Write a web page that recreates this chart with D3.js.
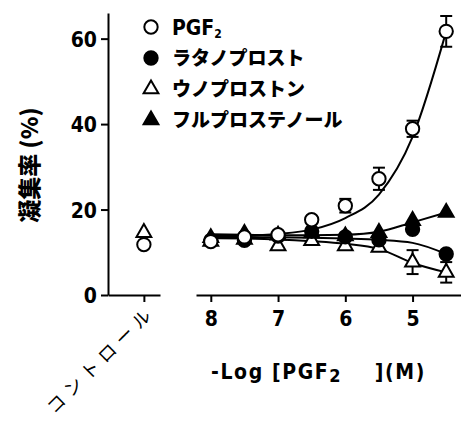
<!DOCTYPE html>
<html>
<head>
<meta charset="utf-8">
<script src="https://cdn.jsdelivr.net/npm/d3@7"></script>
<style>
  body { margin: 0; background: #fff; }
  svg { display: block; }
  .num { font-family: "DejaVu Sans Condensed", "Liberation Sans", sans-serif; font-weight: bold; font-size: 21px; }
  .jp { font-family: "Noto Sans CJK JP", sans-serif; }
</style>
</head>
<body>
<div id="vis"></div>
<script>
const FRAME_WIDTH = 461;
const FRAME_HEIGHT = 425;

// data
const LOG_CONC = [8, 7.5, 7, 6.5, 6, 5.5, 5, 4.5];
const X_TICKS = [8, 7, 6, 5];
const Y_TICKS = [0, 20, 40, 60];
const CONTROL_LABEL = "コントロール";

const PGF2 = [12.5, 13.6, 14.1, 17.6, 20.9, 27.2, 38.9, 61.7];
const PGF2_ERR = [0, 0, 0, 0.8, 1.6, 2.6, 1.9, 3.6];
const PGF2_FIT = [13.8, 13.9, 14.3, 15.3, 18.0, 23.5, 37.0, 61.7];
const PGF2_CONTROL = 11.8;

const LATANOPROST = [12.8, 12.8, 13.8, 14.9, 13.6, 12.9, 15.4, 9.6];
const LATANOPROST_FIT = [13.6, 13.6, 13.5, 13.4, 13.2, 12.9, 12.2, 9.6];

const UNOPROSTONE = [12.5, 13.0, 11.5, 12.7, 11.5, 11.1, 7.7, 5.3];
const UNOPROSTONE_ERR = [0, 0, 0, 0, 0, 0, 2.8, 2.4];
const UNOPROSTONE_FIT = [13.3, 13.2, 13.0, 12.6, 12.0, 10.8, 7.5, 5.3];
const UNOPROSTONE_CONTROL = 14.6;

const FLUPROSTENOL = [13.4, 14.4, 14.0, 14.5, 13.8, 14.6, 17.4, 19.3];
const FLUPROSTENOL_FIT = [14.2, 14.1, 14.0, 14.0, 14.1, 14.8, 17.0, 19.3];

const SERIES = [
  { name: "ウノプロストン", shape: "triangle", fill: "#fff", values: UNOPROSTONE, err: UNOPROSTONE_ERR, fit: UNOPROSTONE_FIT, control: UNOPROSTONE_CONTROL },
  { name: "フルプロステノール", shape: "triangle", fill: "#000", values: FLUPROSTENOL, err: null, fit: FLUPROSTENOL_FIT, control: null },
  { name: "ラタノプロスト", shape: "circle", fill: "#000", values: LATANOPROST, err: null, fit: LATANOPROST_FIT, control: null },
  { name: "PGF2", shape: "circle", fill: "#fff", values: PGF2, err: PGF2_ERR, fit: PGF2_FIT, control: PGF2_CONTROL }
];
const LEGEND_ORDER = ["PGF2", "ラタノプロスト", "ウノプロストン", "フルプロステノール"];

const FRAME = d3.select("#vis")
  .append("svg")
  .attr("width", FRAME_WIDTH)
  .attr("height", FRAME_HEIGHT);

// scales
const Y_SCALE = d3.scaleLinear().domain([0, 66]).range([295, 13]);
const X_SCALE = d3.scaleLinear().domain([8.22, 4.28]).range([196, 461]);
const C_SCALE = d3.scalePoint().domain([CONTROL_LABEL]).range([108, 160]).padding(0.5).align(0.69);

const symbolPath = (shape) => d3.symbol()
  .type(shape === "circle" ? d3.symbolCircle : d3.symbolTriangle)
  .size(shape === "circle" ? 140 : 95)();

const styleAxis = (g) => {
  g.selectAll("path, line").attr("stroke", "#000").attr("stroke-width", 2);
};

// axes
FRAME.append("g")
  .attr("transform", "translate(108,0)")
  .call(d3.axisLeft(Y_SCALE).tickValues(Y_TICKS).tickSize(7).tickSizeOuter(0).tickPadding(4))
  .call(styleAxis)
  .call(g => g.selectAll("text").attr("class", "num").attr("fill", "#000").attr("dy", "0.36em"));

FRAME.append("g")
  .attr("transform", "translate(0,295)")
  .call(d3.axisBottom(C_SCALE).tickSize(7).tickSizeOuter(0))
  .call(styleAxis)
  .call(g => g.selectAll("text")
    .attr("class", "jp")
    .attr("font-size", 18)
    .attr("letter-spacing", 6)
    .attr("fill", "#000")
    .attr("text-anchor", "end")
    .attr("dy", null)
    .attr("y", 0)
    .attr("transform", "translate(12,18) rotate(-45)"));

FRAME.append("g")
  .attr("transform", "translate(0,295)")
  .call(d3.axisBottom(X_SCALE).tickValues(X_TICKS).tickFormat(d3.format("d"))
    .tickSize(7).tickSizeOuter(0).tickPadding(9))
  .call(styleAxis)
  .call(g => g.selectAll("text").attr("class", "num").attr("fill", "#000"));

// fitted curves
const line = d3.line()
  .x((d, i) => X_SCALE(LOG_CONC[i]))
  .y(d => Y_SCALE(d))
  .curve(d3.curveMonotoneX);

FRAME.selectAll(".fit")
  .data(SERIES)
  .enter()
  .append("path")
  .attr("class", "fit")
  .attr("d", d => line(d.fit))
  .attr("fill", "none")
  .attr("stroke", "#000")
  .attr("stroke-width", 2);

// error bars and markers
SERIES.forEach((s) => {
  const pts = s.values.map((v, i) => ({ x: X_SCALE(LOG_CONC[i]), v: v, e: s.err ? s.err[i] : 0 }));
  if (s.control !== null) pts.unshift({ x: C_SCALE(CONTROL_LABEL), v: s.control, e: 0 });

  const eb = FRAME.append("g").selectAll("g")
    .data(pts.filter(p => p.e > 0))
    .enter()
    .append("g")
    .attr("stroke", "#000")
    .attr("stroke-width", 2);
  eb.append("line")
    .attr("x1", p => p.x).attr("x2", p => p.x)
    .attr("y1", p => Y_SCALE(p.v - p.e)).attr("y2", p => Y_SCALE(p.v + p.e));
  [-1, 1].forEach((sg) => {
    eb.append("line")
      .attr("x1", p => p.x - 6).attr("x2", p => p.x + 6)
      .attr("y1", p => Y_SCALE(p.v + sg * p.e)).attr("y2", p => Y_SCALE(p.v + sg * p.e));
  });

  FRAME.append("g").selectAll("path")
    .data(pts)
    .enter()
    .append("path")
    .attr("d", symbolPath(s.shape))
    .attr("transform", p => `translate(${p.x},${Y_SCALE(p.v)})`)
    .attr("fill", s.fill)
    .attr("stroke", "#000")
    .attr("stroke-width", 2);
});

// legend
const LEGEND = FRAME.append("g");
LEGEND_ORDER.forEach((name, i) => {
  const s = SERIES.find(d => d.name === name);
  const y = 27 + i * 31;
  LEGEND.append("path")
    .attr("d", symbolPath(s.shape))
    .attr("transform", `translate(151,${y})`)
    .attr("fill", s.fill)
    .attr("stroke", "#000")
    .attr("stroke-width", 2);
  const t = LEGEND.append("text")
    .attr("x", 172)
    .attr("y", y)
    .attr("dy", "0.36em")
    .attr("fill", "#000");
  if (name === "PGF2") {
    t.attr("class", "num").attr("font-size", 18).text("PGF");
    t.append("tspan").attr("font-size", 12).attr("dy", 3).text("2");
  } else {
    t.attr("class", "jp").attr("font-size", 19).attr("font-weight", 900).text(name);
  }
});

// axis titles
FRAME.append("text")
  .attr("class", "jp")
  .attr("transform", "translate(38,165) rotate(-90)")
  .attr("text-anchor", "middle")
  .attr("font-size", 23)
  .attr("font-weight", 900)
  .text("凝集率 (%)");

const XT = FRAME.append("text")
  .attr("class", "num")
  .attr("x", 211)
  .attr("y", 379)
  .attr("font-size", 25)
  .attr("letter-spacing", 1.6)
  .style("white-space", "pre");
XT.append("tspan").text("-Log [PGF");
XT.append("tspan").attr("font-size", 18).attr("dy", 3).text("2");
XT.append("tspan").attr("dy", -3).text("    ](M)");
</script>
</body>
</html>
